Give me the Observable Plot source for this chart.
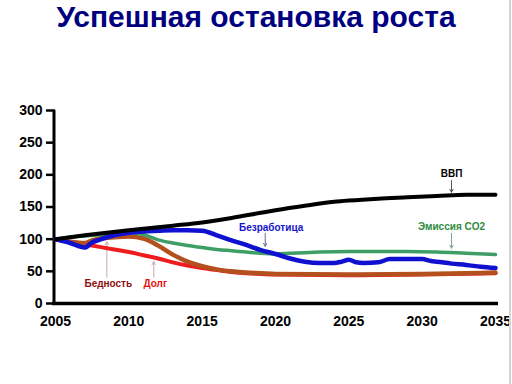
<!DOCTYPE html>
<html><head><meta charset="utf-8">
<script src="https://cdn.jsdelivr.net/npm/d3@7"></script>
<script src="https://cdn.jsdelivr.net/npm/@observablehq/plot@0.6"></script>
<style>
html,body{margin:0;padding:0;background:#fff;width:512px;height:384px;overflow:hidden;}
body{position:relative;}
#frame{position:absolute;left:509px;top:0;width:2px;height:384px;background:#d4d4d4;}
#title{height:56px;line-height:60px;text-align:center;font:bold 30px "Liberation Sans",Arial,sans-serif;color:#000080;white-space:nowrap;overflow:hidden;}
</style></head><body>
<div id="title">Успешная остановка роста</div>
<div id="chart"></div>
<div id="frame"></div>
<script>
// Series (index, 2005 = 100)
const gdpYears   = [2005,2007,2010,2013,2015,2017,2019,2020,2022,2024,2025,2027,2029,2031,2033,2035];
const gdpValues  = [100,106,114,121,126,133,141,145,152,158,160,163,165,167,169,169];

const co2Years   = [2005,2006,2007,2008,2009,2010,2011,2012,2013,2014,2015,2016,2017,2018,2019,2020,2021,2022,2023,2025,2027,2029,2031,2033,2035];
const co2Values  = [100,103,105,107,109,110,107,99,94,90,87,84,82,80,78,77,78,79,80,81,81,81,80,78,76];

const unempYears  = [2005,2006,2007,2007.5,2008,2009,2010,2011,2012,2013,2014,2015,2016,2017,2018,2019,2020,2021,2022,2023,2024,2024.5,2025,2025.5,2026,2027,2027.8,2029,2030,2030.6,2031,2032,2033,2034,2035];
const unempValues = [100,94,87,95,99,106,110,112,113,114,114,113,106,98,91,83,77,70,65,63,63,65,68,64,63,64,69,69,69,66,65,62,60,57,55];

const debtYears   = [2005,2006,2007,2008,2009,2010,2011,2012,2013,2014,2015,2016,2017,2018,2019,2020,2025,2030,2035];
const debtValues  = [100,96,92,88,84,80,75,70,64,59,55,52,49,47,46,45,44,45,47];

const povertyYears  = [2005,2006,2007,2007.5,2008,2009,2010,2011,2012,2013,2014,2015,2016,2017,2018,2019,2020,2025,2030,2035];
const povertyValues = [100,96,94,98,101,103,104,101,90,76,65,58,53,50,48,47,46,45,46,48];

// Axis ticks
const xTicks = [2005,2010,2015,2020,2025,2030,2035];
const yTicks = [0,50,100,150,200,250,300];

// Annotations
const labelTexts  = ["ВВП","Эмиссия CO2","Безработица","Бедность","Долг"];
const labelX      = [2032,2032,2019.7,2008.6,2011.8];
const labelY      = [202,120,118,31,31];
const labelColors = ["#000000","#2e8b3e","#1414c8","#8b1010","#e81010"];
const arrowX      = [2032,2032,2019.3,2008.5,2011.7];
const arrowFrom   = [191,109,109,41,41];
const arrowTo     = [173,86,89,96,65];
const arrowColors = ["#555555","#7aa88a","#6a6a9a","#c8a8a8","#c8a8a8"];

const zip = (xs, ys) => xs.map((x, i) => ({x, y: ys[i]}));
const labels = labelTexts.map((t, i) => ({t, x: labelX[i], y: labelY[i], c: labelColors[i]}));
const arrows = arrowX.map((x, i) => ({x, y1: arrowFrom[i], y2: arrowTo[i], c: arrowColors[i]}));

const font = "'Liberation Sans', Arial, sans-serif";
const curve = "monotone-x";

const chart = Plot.plot({
  width: 512,
  height: 328,
  marginTop: 54,
  marginBottom: 81,
  marginLeft: 55,
  marginRight: 17,
  style: {fontFamily: font, background: "#fff", color: "#000"},
  x: {domain: [2005, 2035]},
  y: {domain: [0, 300]},
  marks: [
    Plot.axisX({ticks: xTicks, tickFormat: d => String(d), tickSize: 0, tickPadding: 13, fontSize: 14, fontWeight: "bold", label: null}),
    Plot.axisY({ticks: yTicks, tickSize: 9, tickPadding: 4, fontSize: 14, fontWeight: "bold", strokeWidth: 2.5, label: null}),
    Plot.ruleX([2005], {y1: 0, y2: 300, strokeWidth: 3, dx: -1.5}),
    Plot.ruleY([0], {strokeWidth: 3.5, insetLeft: -3, insetRight: -3}),
    Plot.arrow(arrows, {x1: "x", x2: "x", y1: "y1", y2: "y2", stroke: "c", strokeWidth: 1, headLength: 5}),
    Plot.line(zip(debtYears, debtValues), {x: "x", y: "y", stroke: "#ee1c1c", strokeWidth: 4, curve}),
    Plot.line(zip(povertyYears, povertyValues), {x: "x", y: "y", stroke: "#b4501e", strokeWidth: 4.5, curve}),
    Plot.line(zip(co2Years, co2Values), {x: "x", y: "y", stroke: "#3f9e66", strokeWidth: 3.5, curve}),
    Plot.line(zip(unempYears, unempValues), {x: "x", y: "y", stroke: "#1010d0", strokeWidth: 4.5, curve}),
    Plot.line(zip(gdpYears, gdpValues), {x: "x", y: "y", stroke: "#000000", strokeWidth: 4, curve}),
    Plot.text(labels, {x: "x", y: "y", text: "t", fill: "c", fontSize: 10, fontWeight: "bold"})
  ]
});
document.getElementById("chart").appendChild(chart);
</script>
</body></html>
